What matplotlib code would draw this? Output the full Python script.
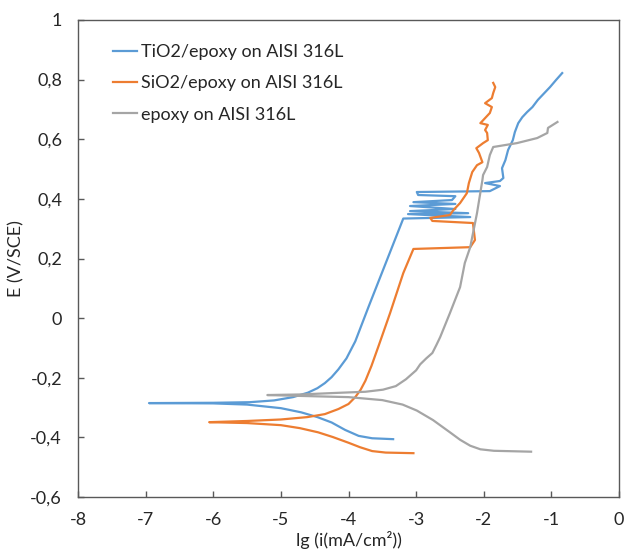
import matplotlib
matplotlib.use("Agg")
import matplotlib.pyplot as plt
from matplotlib.ticker import FuncFormatter

plt.rcParams['font.family'] = ['Lato', 'DejaVu Sans']

# ---- data (lg i [mA/cm2], E [V/SCE]) ----
tio2_x = [-3.34, -3.65, -3.85, -4.05, -4.25, -4.46, -4.70, -5.00, -5.50, -6.00, -6.95,
          -6.00, -5.46, -5.10, -4.82, -4.60, -4.46, -4.35, -4.25, -4.15, -4.03, -3.90, -3.70, -3.19,
          -2.20, -3.12, -2.23, -3.09, -2.42, -3.09, -2.42, -3.04, -2.47,
          -2.42, -2.97, -2.99, -1.91, -1.76, -1.98, -1.76, -1.71,
          -1.73, -1.68, -1.64, -1.57, -1.54, -1.49, -1.43, -1.36, -1.28,
          -1.20, -1.02, -0.93, -0.84]
tio2_y = [-0.406, -0.403, -0.395, -0.375, -0.350, -0.332, -0.316, -0.302, -0.290, -0.286, -0.285,
          -0.284, -0.282, -0.276, -0.265, -0.250, -0.235, -0.218, -0.198, -0.172, -0.135, -0.078, 0.040, 0.334,
          0.339, 0.349, 0.352, 0.359, 0.366, 0.376, 0.383, 0.389, 0.396,
          0.409, 0.413, 0.423, 0.426, 0.443, 0.453, 0.460, 0.470,
          0.503, 0.530, 0.564, 0.597, 0.624, 0.654, 0.674, 0.691, 0.708,
          0.732, 0.775, 0.799, 0.822]

sio2_x = [-3.04, -3.45, -3.65, -3.83, -4.00, -4.23, -4.45, -4.72, -5.00, -5.50, -6.06,
          -5.50, -5.00, -4.61, -4.35, -4.15, -4.00, -3.90, -3.82, -3.75, -3.66, -3.55,
          -3.385, -3.19, -3.04,
          -2.20, -2.13, -2.16, -2.76, -2.79, -2.50, -2.45, -2.35, -2.25,
          -2.22, -2.17, -2.10, -2.02, -2.07, -2.11, -2.01, -1.94, -1.95,
          -1.98, -1.94, -2.05, -1.98, -1.91, -1.88, -1.98, -1.88, -1.86,
          -1.83, -1.86]
sio2_y = [-0.453, -0.451, -0.446, -0.433, -0.418, -0.399, -0.383, -0.369, -0.359, -0.352, -0.349,
          -0.345, -0.340, -0.332, -0.322, -0.305, -0.288, -0.265, -0.240, -0.210, -0.160, -0.090,
          0.017, 0.151, 0.232,
          0.238, 0.262, 0.319, 0.326, 0.336, 0.346, 0.362, 0.386, 0.419,
          0.453, 0.490, 0.513, 0.523, 0.554, 0.570, 0.587, 0.597, 0.621,
          0.631, 0.648, 0.654, 0.671, 0.688, 0.708, 0.721, 0.738, 0.755,
          0.775, 0.789]

epoxy_x = [-1.30, -1.85, -2.05, -2.20, -2.35, -2.50, -2.75, -2.99, -3.20, -3.50, -4.00, -4.70, -5.20,
           -4.70, -4.20, -3.75, -3.49, -3.30, -3.15, -3.00, -2.94, -2.85, -2.76, -2.70, -2.645,
           -2.50, -2.35, -2.28, -2.20, -2.10, -2.02, -2.01, -1.95, -1.91, -1.86,
           -1.51, -1.21, -1.06, -1.05, -0.91]
epoxy_y = [-0.448, -0.445, -0.440, -0.428, -0.408, -0.383, -0.342, -0.310, -0.290, -0.275, -0.265, -0.261, -0.258,
           -0.256, -0.251, -0.247, -0.240, -0.228, -0.205, -0.175, -0.155, -0.135, -0.117, -0.090, -0.064,
           0.017, 0.104, 0.185, 0.238, 0.352, 0.463, 0.480, 0.507, 0.547, 0.574,
           0.587, 0.604, 0.621, 0.638, 0.658]

labels = ["TiO2/epoxy on AISI 316L", "SiO2/epoxy on AISI 316L", "epoxy on AISI 316L"]
colors = ["#5B9BD5", "#ED7D31", "#A5A5A5"]

fig = plt.figure(figsize=(6.26, 5.53), dpi=100)
ax = fig.add_axes([78/626, 1-497/553, (619-78)/626, (497-20)/553])

for xs, ys, lab, c in zip([tio2_x, sio2_x, epoxy_x], [tio2_y, sio2_y, epoxy_y], labels, colors):
    ax.plot(xs, ys, color=c, lw=1.6, label=lab, solid_joinstyle='round')

ax.set_xlim(-8, 0)
ax.set_ylim(-0.6, 1.0)
ax.set_xticks(range(-8, 1))
ax.set_yticks([-0.6, -0.4, -0.2, 0, 0.2, 0.4, 0.6, 0.8, 1.0])

def fmt(v, pos):
    if abs(v) < 1e-9:
        return "0"
    s = ("%.1f" % v).rstrip('0').rstrip('.')
    return s.replace('.', ',')

ax.xaxis.set_major_formatter(FuncFormatter(fmt))
ax.yaxis.set_major_formatter(FuncFormatter(fmt))

FS = 13
for sp in ax.spines.values():
    sp.set_color('#595959')
    sp.set_linewidth(1.0)
ax.tick_params(axis='both', direction='in', length=4, width=1, color='#595959',
               labelsize=FS, labelcolor='#262626')
ax.tick_params(axis='x', pad=11)
ax.tick_params(axis='y', pad=11.5)

ax.set_xlabel("lg (i(mA/cm²))", fontsize=FS, color='#262626', labelpad=2)
ax.set_ylabel("E (V/SCE)", fontsize=FS, color='#262626', labelpad=4)

ax.legend(loc='upper left', bbox_to_anchor=(0.0647, 0.950), frameon=False,
          fontsize=FS, handlelength=1.35, handletextpad=0.2, labelspacing=0.85,
          borderaxespad=0, borderpad=0, labelcolor='#262626')

fig.savefig("out.png", dpi=100)
